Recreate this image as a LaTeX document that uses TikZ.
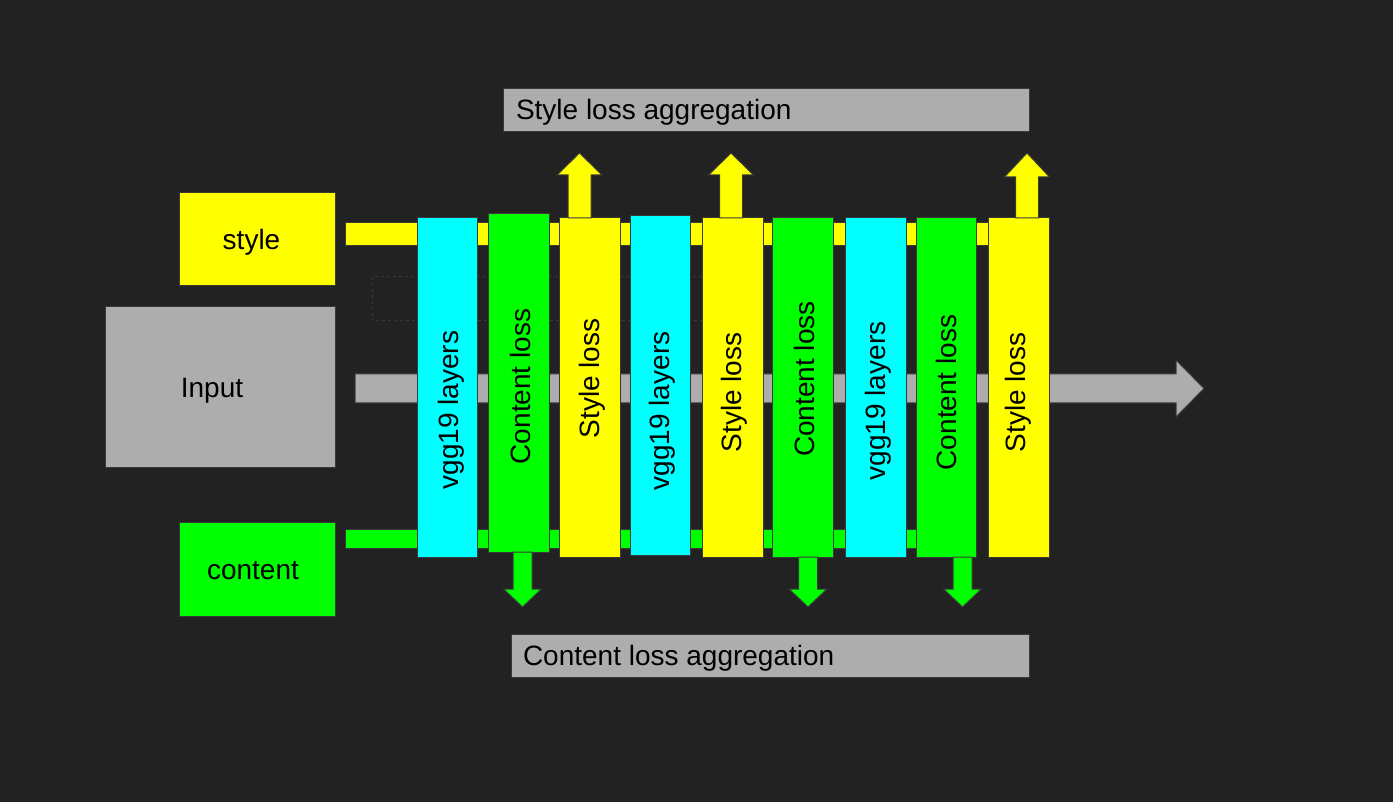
\documentclass[tikz,border=0pt]{standalone}
\usepackage{fontspec}
\setmainfont{Liberation Sans}
\usetikzlibrary{calc}
\definecolor{bg}{HTML}{222222}
\definecolor{ol}{HTML}{3A3A3A}
\definecolor{gr}{HTML}{ADADAD}
\definecolor{yl}{HTML}{FFFF00}
\definecolor{cy}{HTML}{00FFFF}
\definecolor{gn}{HTML}{00FF00}
\definecolor{dotc}{HTML}{383838}
\begin{document}
\begin{tikzpicture}[x=1pt,y=-1pt,
  every node/.style={font=\fontsize{28}{32}\selectfont, inner sep=0pt, outer sep=0pt},
  boxshape/.style={draw=ol, line width=1pt, rectangle, inner sep=0pt},
  colshape/.style={draw=ol, line width=1pt},
  lab/.style={text=black},
  arr/.style={draw=ol, line width=1pt, line join=miter}]
\fill[bg] (0,0) rectangle (1393,802);
\useasboundingbox (0,0) rectangle (1393,802);

% left boxes
\node[boxshape, fill=yl, minimum width=156pt, minimum height=93pt] (sty) at (257.5,239.5) {};
\node[boxshape, fill=gr, minimum width=230pt, minimum height=160pt] (inp) at (220.5,387) {};
\node[boxshape, fill=gn, minimum width=156pt, minimum height=94pt] (con) at (257.5,569) {};
\node[lab, anchor=base] (styt) at (251.5,250) {style};
\node[lab, anchor=base] (inpt) at (212,398) {Input};
\node[lab, anchor=base] (cont) at (253,579) {content};

% faint dotted rectangle
\draw[dotc, line width=1pt, dash pattern=on 3pt off 3pt] (372,277) rectangle (730,321);

% horizontal bars
\coordinate (ys) at (345,223);
\coordinate (ye) at (1000,246);
\coordinate (gs) at (345,529);
\coordinate (ge) at (950,548);
\filldraw[fill=yl, draw=ol, line width=1pt] (ys) rectangle (ye);
\filldraw[fill=gn, draw=ol, line width=1pt] (gs) rectangle (ge);

% gray main arrow
\coordinate (as) at (355,388.5);
\coordinate (ae) at (1204,388.5);
\filldraw[fill=gr, arr] ($(as)+(0,-14.5)$) -- ($(ae)+(-28,-14.5)$) -- ($(ae)+(-28,-28.5)$) -- (ae)
  -- ($(ae)+(-28,28.5)$) -- ($(ae)+(-28,14.5)$) -- ($(as)+(0,14.5)$) -- cycle;

% columns
\foreach \n/\xa/\xb/\ya/\yb/\c/\t/\ty/\dx in {
  1/417/477/218/557/cy/vgg19 layers/410/4,
  2/488/549/214/552/gn/Content loss/386.5/2,
  3/559/620/218/557/yl/Style loss/378.5/3,
  4/630/690/216/555/cy/vgg19 layers/411/2,
  5/702/763/218/557/yl/Style loss/392.5/2,
  6/772/833/218/557/gn/Content loss/379/2,
  7/845/906/218/557/cy/vgg19 layers/401/3,
  8/916/976/218/557/gn/Content loss/392.5/0,
  9/988/1049/218/557/yl/Style loss/392.5/0}{
  \node[colshape, fill=\c, rectangle, minimum width={(\xb-\xa)*1pt}, minimum height={(\yb-\ya)*1pt}]
     (c\n) at ({(\xa+\xb)/2},{(\ya+\yb)/2}) {};
  \node[lab, rotate=90] (t\n) at ({(\xa+\xb)/2+\dx},\ty) {\t};
}

% up arrows (style loss to aggregation)
\foreach \n/\cx/\hb in {3/579.5/175, 5/731/175, 9/1027/177}{
  \coordinate (ub\n) at (\cx,218);
  \filldraw[fill=yl, arr] ($(ub\n)+(-11.5,0)$) -- (\cx-11.5,\hb) -- (\cx-22.5,\hb) -- (\cx,153)
     -- (\cx+22.5,\hb) -- (\cx+11.5,\hb) -- ($(ub\n)+(11.5,0)$) -- cycle;
}

% down arrows (content loss to aggregation)
\foreach \n/\cx/\yt in {2/522.5/552, 6/808/557, 8/962.5/557}{
  \coordinate (db\n) at (\cx,\yt);
  \filldraw[fill=gn, arr] ($(db\n)+(-9.5,0)$) -- (\cx-9.5,589) -- (\cx-19,589) -- (\cx,607)
     -- (\cx+19,589) -- (\cx+9.5,589) -- ($(db\n)+(9.5,0)$) -- cycle;
}

% aggregation boxes
\node[boxshape, fill=gr, minimum width=526pt, minimum height=43pt] (sagg) at (766,110.5) {};
\node[lab, anchor=base west] (saggt) at (516,120) {Style loss aggregation};
\node[boxshape, fill=gr, minimum width=518pt, minimum height=43pt] (cagg) at (770,655.5) {};
\node[lab, anchor=base west] (caggt) at (523,665) {Content loss aggregation};
\end{tikzpicture}
\end{document}
